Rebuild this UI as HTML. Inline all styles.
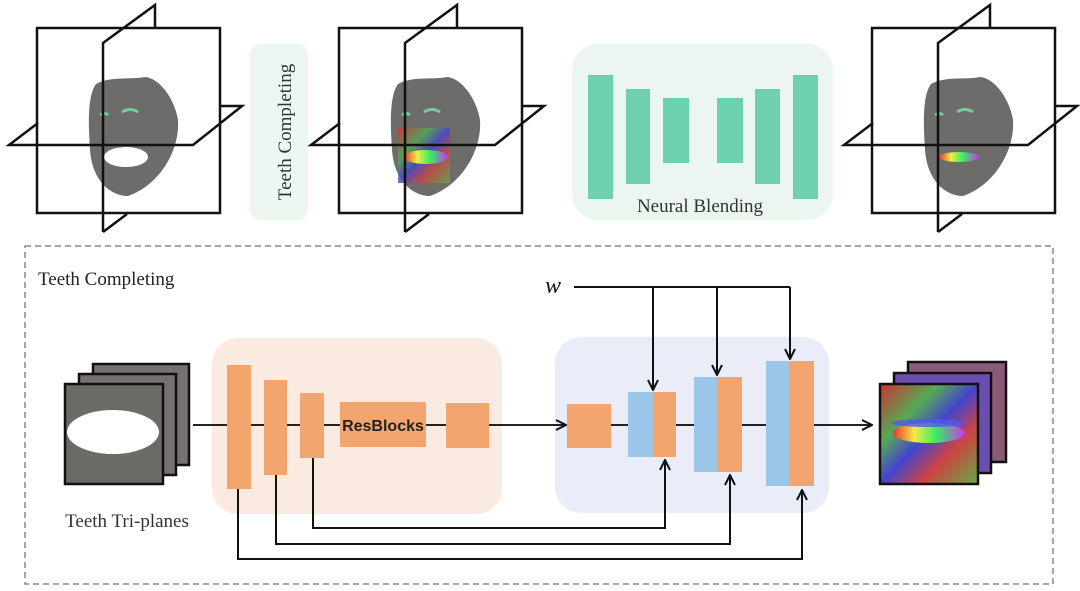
<!DOCTYPE html>
<html><head><meta charset="utf-8"><style>
html,body{margin:0;padding:0;background:#fff;}
svg{display:block;}
text{font-family:"Liberation Serif",serif;}
</style></head><body>
<svg width="1080" height="591" viewBox="0 0 1080 591" xmlns="http://www.w3.org/2000/svg">
<defs>
<marker id="ah" viewBox="0 0 12 12" refX="11" refY="6" markerWidth="12" markerHeight="12" markerUnits="userSpaceOnUse" orient="auto">
<path d="M1,1 L11,6 L1,11" fill="none" stroke="#111" stroke-width="2"/>
</marker>
<linearGradient id="rb" x1="0" y1="0" x2="1" y2="1">
<stop offset="0" stop-color="#c33"/><stop offset="0.3" stop-color="#5a5"/><stop offset="0.5" stop-color="#44c"/><stop offset="0.7" stop-color="#c44"/><stop offset="1" stop-color="#6a4"/>
</linearGradient>
<linearGradient id="teeth" x1="0" y1="0" x2="1" y2="0">
<stop offset="0" stop-color="#e33"/><stop offset="0.3" stop-color="#ee4"/><stop offset="0.6" stop-color="#3e6"/><stop offset="1" stop-color="#c3e"/>
</linearGradient>
<g id="frame" fill="none" stroke="#111" stroke-width="2.5">
<rect x="37" y="28" width="183" height="185"/>
<polyline points="103,232 103,43 155,5 155,28"/>
<line x1="103" y1="232" x2="127" y2="214"/>
<polyline points="38,123 9,145 193,145 242,106 220,106"/>
</g>
<path id="face" d="M96,84 C110,76 130,80 145,77 C160,78 175,100 178,120 C180,150 160,185 128,196 C110,196 92,180 90,150 C88,120 88,95 96,84 Z" fill="#6e6b6b"/>
</defs>

<!-- top row -->
<use href="#face"/>
<ellipse cx="126" cy="157" rx="22" ry="10" fill="#fff"/>
<path d="M122,112 q8,-5 16,0 M100,115 q5,-3 8,0" stroke="#7c9" stroke-width="3" fill="none"/>
<use href="#frame"/>

<rect x="250" y="44" width="58" height="176" rx="10" fill="#edf7f2"/>
<text x="0" y="0" font-size="19" fill="#333" text-anchor="middle" transform="translate(291,132) rotate(-90)">Teeth Completing</text>

<g transform="translate(302,0)">
<use href="#face"/>
<rect x="96" y="128" width="52" height="55" fill="url(#rb)" opacity="0.8"/>
<ellipse cx="124" cy="157" rx="22" ry="7" fill="url(#teeth)"/>
<path d="M122,112 q8,-5 16,0 M100,115 q5,-3 8,0" stroke="#7c9" stroke-width="3" fill="none"/>
<use href="#frame"/>
</g>

<rect x="572" y="44" width="261" height="176" rx="26" fill="#ecf6f1"/>
<g fill="#6dd1af">
<rect x="588" y="75" width="25" height="124"/>
<rect x="626" y="89" width="24" height="95"/>
<rect x="663" y="98" width="26" height="65"/>
<rect x="717" y="98" width="26" height="65"/>
<rect x="755" y="89" width="25" height="95"/>
<rect x="793" y="75" width="25" height="124"/>
</g>
<text x="700" y="212" font-size="19" fill="#333" text-anchor="middle">Neural Blending</text>

<g transform="translate(835,0)">
<use href="#face"/>
<ellipse cx="124" cy="157" rx="20" ry="5" fill="url(#teeth)"/>
<path d="M122,112 q8,-5 16,0 M100,115 q5,-3 8,0" stroke="#7c9" stroke-width="3" fill="none"/>
<use href="#frame"/>
</g>

<!-- bottom -->
<rect x="25" y="246" width="1028" height="338" fill="none" stroke="#888" stroke-width="1.5" stroke-dasharray="6,4"/>
<text x="38" y="285" font-size="19" fill="#222">Teeth Completing</text>

<rect x="212" y="338" width="290" height="176" rx="26" fill="#fbeae0"/>
<rect x="555" y="337" width="274" height="176" rx="26" fill="#eaedf8"/>

<!-- input stack -->
<rect x="93" y="364" width="96" height="101" fill="#777070" stroke="#111" stroke-width="2.5"/>
<rect x="79" y="374" width="97" height="101" fill="#777070" stroke="#111" stroke-width="2.5"/>
<rect x="65" y="384" width="98" height="100" fill="#6c6a66" stroke="#111" stroke-width="2.5"/>
<ellipse cx="113" cy="432" rx="46" ry="22" fill="#fff"/>
<text x="127" y="527" font-size="19" fill="#333" text-anchor="middle">Teeth Tri-planes</text>

<line x1="193" y1="425" x2="566" y2="425" stroke="#222" stroke-width="2" marker-end="url(#ah)"/>
<line x1="611" y1="425" x2="872" y2="425" stroke="#222" stroke-width="2" marker-end="url(#ah)"/>

<g fill="#f2a56e">
<rect x="227" y="365" width="24" height="124"/>
<rect x="264" y="380" width="23" height="95"/>
<rect x="300" y="393" width="24" height="65"/>
<rect x="340" y="402" width="86" height="45"/>
<rect x="446" y="403" width="43" height="45"/>
<rect x="567" y="404" width="44" height="44"/>
<rect x="653" y="392" width="23" height="65"/>
<rect x="717" y="377" width="25" height="95"/>
<rect x="790" y="361" width="24" height="125"/>
</g>
<g fill="#9cc5ea">
<rect x="628" y="392" width="25" height="65"/>
<rect x="694" y="377" width="23" height="95"/>
<rect x="766" y="361" width="24" height="125"/>
</g>
<text x="383" y="431" font-size="16" font-weight="bold" fill="#222" text-anchor="middle" style="font-family:'Liberation Sans',sans-serif">ResBlocks</text>

<!-- w -->
<text x="545" y="293" font-size="24" font-style="italic" fill="#111">w</text>
<g fill="none" stroke="#111" stroke-width="2">
<line x1="574" y1="287" x2="790" y2="287"/>
<line x1="653" y1="287" x2="653" y2="390" marker-end="url(#ah)"/>
<line x1="717" y1="287" x2="717" y2="375" marker-end="url(#ah)"/>
<line x1="790" y1="287" x2="790" y2="359" marker-end="url(#ah)"/>
<polyline points="313,458 313,528 665,528 665,460" marker-end="url(#ah)"/>
<polyline points="276,475 276,544 730,544 730,475" marker-end="url(#ah)"/>
<polyline points="238,489 238,559 802,559 802,490" marker-end="url(#ah)"/>
</g>

<!-- output stack -->
<rect x="908" y="362" width="98" height="100" fill="#8a5a7a" stroke="#111" stroke-width="2.5"/>
<rect x="894" y="373" width="97" height="100" fill="#6a4fb0" stroke="#111" stroke-width="2.5"/>
<rect x="880" y="384" width="98" height="100" fill="url(#rb)" stroke="#111" stroke-width="2.5"/>
<ellipse cx="929" cy="433" rx="36" ry="10" fill="url(#teeth)"/>
<ellipse cx="929" cy="423" rx="38" ry="4" fill="#55e" opacity="0.8"/>
</svg>
</body></html>
